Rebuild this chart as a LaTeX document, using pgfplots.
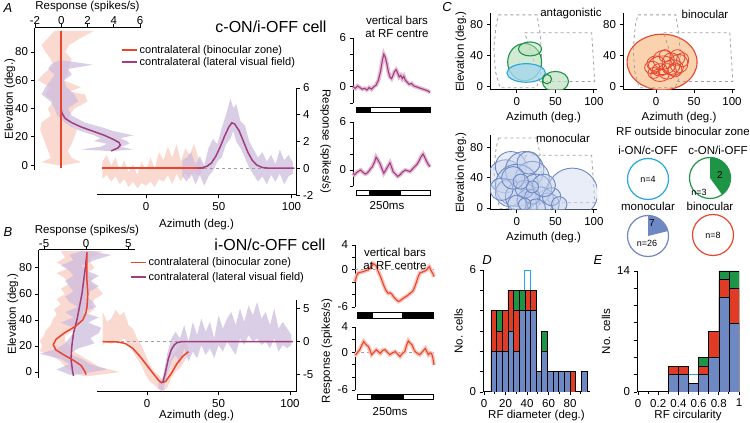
\documentclass[border=0pt]{standalone}
\usepackage{fontspec}
\setmainfont{Liberation Sans}
\usepackage{pgfplots}
\usepackage{pgfplotstable}
\pgfplotsset{compat=1.18}

\definecolor{redfit}{HTML}{E8452C}
\definecolor{purfit}{HTML}{A23D7E}
\definecolor{pinkband}{HTML}{F8CCC2}
\definecolor{purband}{HTML}{CDBCDD}
\definecolor{trpurband}{HTML}{E6BBD7}
\definecolor{trredband}{HTML}{F8C4BA}
\definecolor{greenc}{HTML}{1E9447}
\definecolor{greenfill}{HTML}{BFE0C0}
\definecolor{cyanc}{HTML}{25A6DE}
\definecolor{cyanfill}{HTML}{A6D7EE}
\definecolor{monob}{HTML}{6E88C4}
\definecolor{monofill}{HTML}{C5D2EC}
\definecolor{orangefill}{HTML}{FAD2AE}
\definecolor{histred}{HTML}{E03B24}
\definecolor{dashgray}{HTML}{A0A0A0}

\newcommand{\fs}{\fontsize{11.5}{13}\selectfont}

\pgfplotstableread{
t y
0 0.0
3 -0.2
6 0.1
9 -0.1
12 -0.3
15 -0.2
18 -0.4
21 -0.1
24 -0.3
27 0.0
30 0.2
33 0.8
36 2.0
38 3.2
40 4.0
42 3.6
44 2.8
46 1.8
48 1.2
50 1.0
52 1.4
54 1.9
56 2.1
58 1.7
60 1.2
62 1.4
64 1.0
66 1.3
68 0.8
70 0.6
73 0.3
76 0.4
79 0.1
82 0.0
85 -0.1
88 -0.2
91 -0.3
94 -0.4
97 -0.5
100 -0.7
}\trAtop

\pgfplotstableread{
t y
0 -0.4
2 -0.6
5 -0.3
8 -0.1
10 0.0
13 -0.3
16 -0.5
18 -0.4
21 -0.1
23 0.2
25 0.4
28 1.0
30 1.6
32 1.3
35 0.8
37 0.3
40 -0.4
42 -0.1
45 0.4
48 0.9
50 0.4
52 -0.2
55 -0.5
58 -0.8
60 -0.7
62 -0.5
65 -0.2
68 0.0
71 -0.1
74 -0.2
77 0.1
80 0.4
83 0.7
85 1.0
88 1.6
91 2.0
94 1.4
97 0.8
100 0.4
}\trAbot

\pgfplotstableread{
t y
0 -1.9
2 -1.0
4 -0.5
7 -0.4
10.5 -0.3
14 -0.1
17 0.0
19 0.3
21 0.5
23 1.0
25 0.8
26.6 0.7
28 0.2
29.5 -0.3
32 -1.0
33.8 -1.6
36 -2.4
38 -3.0
40 -3.5
42 -3.8
44 -3.7
46.4 -3.9
48.5 -4.3
50.6 -4.6
53 -4.9
54.9 -5.1
57 -5.0
59 -4.8
61 -4.6
63.3 -4.4
66 -4.2
69.6 -3.8
72 -3.6
73.8 -3.3
76 -2.6
78 -1.9
80 -1.1
82.3 -0.5
84.5 -0.4
86.5 -0.3
88.5 -0.2
90.7 0.0
92.5 0.3
94 0.5
95.5 0.1
97 -0.3
98.5 -0.6
100 -1.1
}\trBtop

\pgfplotstableread{
t y
0 -0.3
1 -0.4
3.5 0.0
6 0.4
8.5 1.1
11 1.7
14 1.2
17 0.9
19 0.3
21 -0.4
24 0.0
27 0.4
29.5 0.1
32 -0.2
35 0.3
38 0.4
41 0.0
44 -0.4
47.5 -0.1
51 0.1
54 -0.3
57 -0.7
60 -0.2
63 0.1
65 1.0
67.5 1.8
70 1.4
72 1.2
74 0.6
76 0.1
79 -0.2
82 -0.4
85.5 0.1
89 0.6
91 0.1
93 -0.4
95 -0.1
97 -0.2
98.5 -0.9
100 -2.0
}\trBbot

\pgfplotsset{
  base/.style={scale only axis, anchor=south west,
    /pgf/number format/assume math mode=true,
    tick label style={font=\fs},
    label style={font=\fs},
    tick align=outside,
    axis line style={line width=1pt},
    major tick length=3.5pt, minor tick length=2pt,
    every tick/.append style={black, line width=0.9pt},
  },
  trace/.style={base, axis x line=none, axis y line*=left, xmin=0, xmax=100, clip=false,
    xtick=\empty},
  hbar/.style={ybar, bar shift=0pt, draw=black, line width=0.6pt},
  leg/.style={legend cell align=left,
    legend image code/.code={\draw[##1, line width=1.6pt] (0pt,0pt) -- (15pt,0pt);}},
}

\begin{document}
\begin{tikzpicture}[x=1pt,y=1pt]
\useasboundingbox (0pt,0pt) rectangle (750pt,423pt);

% ---------------- Panel A: elevation profile ----------------
\begin{axis}[base, at={(35pt,253pt)}, width=105pt, height=142pt,
  xmin=-2, xmax=6, ymin=-3.5, ymax=97,
  axis x line*=top, axis y line*=left,
  xtick={-2,0,2,4,6}, ytick={0,20,40,60,80},
  xlabel={Response (spikes/s)}, ylabel={Elevation (deg.)},
  xlabel style={yshift=-2pt}, xticklabel style={yshift=-4pt}, ylabel shift=-7pt]
\addplot[fill=pinkband, draw=none, fill opacity=0.75] coordinates {
(2.5,95) (1.5,90) (0.6,85) (0.3,80) (0.8,75) (0.6,70) (0.5,65) (0.2,60) (1.5,55) (0.6,52) (1.8,50) (2.0,45) (1.0,40) (0.6,35) (0.5,30) (1.2,25) (1.0,20) (0.8,15) (0.5,10) (0.8,5) (1.5,2) (0.3,0)
(-0.3,0) (-1.5,2) (-0.8,5) (-1.0,10) (-1.2,15) (-1.4,20) (-1.6,25) (-1.5,30) (-0.8,35) (-1.0,40) (-0.6,45) (-1.2,50) (-0.8,55) (-1.8,60) (-1.3,65) (-0.6,70) (-0.8,75) (-1.2,80) (-1.5,85) (-1.0,90) (-0.5,95)} -- cycle;
\addplot[fill=purband, draw=none, fill opacity=0.75] coordinates {
(0.2,74) (2.4,71) (0.5,68) (0.8,64) (0.2,60) (0.4,55) (1.0,50) (1.3,45) (0.5,40) (0.8,35) (1.8,30) (3.0,27) (4.0,24) (5.5,21) (4.5,19) (5.0,17) (5.2,15) (4.5,13) (5.5,11) (4.0,10)
(3.5,10) (1.5,11) (3.0,13) (3.5,15) (2.5,17) (3.0,19) (2.5,21) (1.5,24) (0.8,27) (0.3,30) (-0.3,35) (-0.5,40) (-0.8,45) (-1.5,50) (-1.2,55) (-0.8,60) (-0.5,64) (-1.0,68) (-0.8,71) (-0.2,74)} -- cycle;
\addplot[purfit, line width=1.5pt] coordinates {(0,95) (0,40) (0.02,38) (0.1,36) (0.3,33) (0.8,30) (1.5,27) (2.4,24) (3.3,21) (4.0,18) (4.4,16) (4.5,14) (4.3,12) (3.8,10)};
\addplot[redfit, line width=1.5pt] coordinates {(0,-2) (0,95)};
\end{axis}

% ---------------- Panel A: azimuth profile ----------------
\begin{axis}[base, leg, at={(97pt,228pt)}, width=199pt, height=107pt,
  xmin=-33.7, xmax=103.1, ymin=-2, ymax=6,
  axis x line*=bottom, axis y line*=right,
  xtick={0,50,100}, ytick={-2,0,2,4,6},
  xlabel={Azimuth (deg.)}, ylabel={Response (spikes/s)},
  xlabel style={yshift=-2pt},
  ylabel style={rotate=180},
  legend style={at={(0.12,1.42)}, anchor=north west, draw=none, fill=none,
    font=\fontsize{11}{12}\selectfont, inner sep=0pt, row sep=-1.5pt}]
\addplot[fill=pinkband, draw=none, fill opacity=0.75, forget plot] coordinates {
(-30,0.5) (-27,1.0) (-24,0.2) (-21,0.8) (-18,-0.2) (-15,0.6) (-12,-0.3) (-9,0.3) (-6,-0.5) (-3,0.5) (0,-0.2) (3,0.8) (6,0.0) (9,1.2) (12,0.6) (15,1.6) (18,0.8) (21,1.8) (24,0.5) (27,1.5) (30,1.0) (33,1.8) (36,0.8) (38,0.3)
(38,-0.3) (36,-0.6) (33,-0.2) (30,-0.8) (27,-0.3) (24,-1.0) (21,-0.4) (18,-1.2) (15,-0.5) (12,-1.0) (9,-0.8) (6,-1.4) (3,-1.0) (0,-1.3) (-3,-1.1) (-6,-1.5) (-9,-1.0) (-12,-1.4) (-15,-0.8) (-18,-1.2) (-21,-0.6) (-24,-1.0) (-27,-0.5) (-30,-0.8)} -- cycle;
\addplot[fill=purband, draw=none, fill opacity=0.75, forget plot] coordinates {
(25,0.6) (28,0.8) (31,1.2) (34,0.3) (37,0.9) (40,0.2) (43,1.5) (46,2.2) (49,1.8) (52,3.0) (55,4.0) (58,5.2) (60,4.5) (62,4.8) (65,3.5) (68,3.2) (71,2.0) (74,1.4) (77,0.8) (80,1.2) (83,0.5) (86,1.0) (89,0.3) (92,1.4) (95,0.6) (98,1.0) (101,0.4)
(101,-0.4) (98,-0.6) (95,-1.2) (92,-0.4) (89,-1.0) (86,-0.5) (83,-1.2) (80,-0.6) (77,-1.0) (74,-0.5) (71,0.0) (68,0.8) (65,1.5) (62,2.0) (60,2.8) (58,2.2) (55,1.8) (52,0.8) (49,0.5) (46,-0.2) (43,-0.6) (40,-1.3) (37,-0.5) (34,-1.2) (31,-0.4) (28,-1.0) (25,-0.6)} -- cycle;
\addplot[dashgray, dashed, line width=0.8pt, forget plot] coordinates {(-30,0) (102,0)};
\addplot[redfit, line width=1.5pt] coordinates {(-30,0) (40,0)};
\addlegendentry{contralateral (binocular zone)}
\addplot[purfit, line width=1.5pt] coordinates {(35,0) (38,0.02) (42,0.15) (45,0.4) (48,0.9) (51,1.6) (54,2.4) (57,3.1) (59,3.4) (61,3.3) (64,2.8) (67,2.0) (70,1.2) (73,0.6) (76,0.25) (80,0.05) (85,0) (102,0)};
\addlegendentry{contralateral (lateral visual field)}
\end{axis}

% ---------------- Panel B: elevation profile ----------------
\begin{axis}[base, at={(39pt,45pt)}, width=96pt, height=128pt,
  xmin=-5.6, xmax=5.8, ymin=-4.6, ymax=93.8,
  axis x line*=top, axis y line*=left,
  xtick={-5,0,5}, ytick={0,20,40,60,80},
  xlabel={Response (spikes/s)}, ylabel={Elevation (deg.)},
  xlabel style={yshift=-3pt}, xticklabel style={yshift=-5pt}, ylabel shift=-6pt]
\addplot[fill=pinkband, draw=none, fill opacity=0.75] coordinates {
(2.0,93) (0.5,88) (0.5,84) (1.0,80) (0.0,76) (0.8,72) (0.5,68) (1.5,64) (2.0,60) (1.0,56) (0.5,52) (1.0,48) (0.0,44) (-0.5,40) (-1.0,36) (-1.5,32) (-2.5,28) (-2.5,24) (-2.0,20) (-1.5,16) (-0.5,12) (0.5,8) (1.5,4) (4.0,0) (0.5,-3)
(-0.5,-3) (-1.5,0) (-2.5,4) (-3.0,8) (-4.0,12) (-5.5,16) (-5.2,20) (-5.5,24) (-5.0,28) (-4.8,32) (-4.2,36) (-4.0,40) (-3.5,44) (-3.8,48) (-3.0,52) (-3.5,56) (-2.5,60) (-3.0,64) (-2.0,68) (-2.5,72) (-3.5,76) (-2.0,80) (-3.5,84) (-2.5,88) (-3.0,93)} -- cycle;
\addplot[fill=purband, draw=none, fill opacity=0.75] coordinates {
(0.5,93) (3.0,90) (1.0,86) (-0.5,82) (0.0,78) (1.5,74) (0.5,70) (1.5,66) (0.5,62) (0.0,58) (0.8,54) (1.2,50) (-0.5,46) (1.5,42) (0.2,38) (1.8,34) (1.5,30) (0.5,26) (1.0,22) (-1.0,18) (-2.0,14) (-0.5,10) (0.5,6) (2.5,2) (-1.0,-2)
(-2.0,-2) (-3.5,2) (-2.0,6) (-3.0,10) (-5.5,14) (-3.5,18) (-2.5,22) (-2.0,26) (-1.5,30) (-1.5,34) (-3.0,38) (-1.5,42) (-2.5,46) (-1.0,50) (-2.0,54) (-2.5,58) (-1.5,62) (-2.0,66) (-2.5,70) (-1.5,74) (-2.0,78) (-3.0,82) (-1.5,86) (-2.0,90) (-0.5,93)} -- cycle;
\addplot[purfit, line width=1.5pt] coordinates {(0.1,92) (-0.1,80) (-0.3,70) (-0.5,60) (-0.8,50) (-1.1,40) (-1.5,30) (-1.7,20) (-1.8,10) (-1.6,0) (-1.5,-3)};
\addplot[redfit, line width=1.5pt] coordinates {(0.1,92) (0.1,70) (0.2,60) (0.1,50) (-0.05,45) (-0.4,40) (-1.3,35) (-2.6,30) (-3.6,25) (-3.9,21) (-3.6,17) (-2.6,13) (-1.5,9) (-0.6,5) (-0.2,1) (0,-2)};
\end{axis}

% ---------------- Panel B: azimuth profile ----------------
\begin{axis}[base, leg, at={(97pt,31pt)}, width=199pt, height=92pt,
  xmin=-35, xmax=104.2, ymin=-7.6, ymax=6.3,
  axis x line*=bottom, axis y line*=right,
  xtick={0,50,100}, ytick={-5,0,5},
  xlabel={Azimuth (deg.)}, xlabel style={yshift=4pt},
  legend style={at={(0.165,1.485)}, anchor=north west, draw=none, fill=none,
    font=\fontsize{11}{12}\selectfont, inner sep=0pt, row sep=1.5pt}]
\addplot[fill=pinkband, draw=none, fill opacity=0.75, forget plot] coordinates {
(-31,4.5) (-28,3.0) (-25,3.5) (-22,4.8) (-19,4.0) (-16,4.5) (-13,2.5) (-10,2.0) (-7,0.5) (-4,-0.5) (-1,-2.0) (2,-3.5) (5,-4.5) (8,-5.0) (11,-5.8) (14,-4.5) (17,-2.5) (20,-1.5) (23,-0.5) (26,0.0) (29,-0.8)
(29,-2.0) (26,-3.0) (23,-4.0) (20,-4.5) (17,-5.5) (14,-7.0) (11,-7.5) (8,-7.2) (5,-6.5) (2,-6.0) (-1,-5.0) (-4,-3.5) (-7,-2.5) (-10,-1.5) (-13,-0.5) (-16,0.5) (-19,0.0) (-22,0.2) (-25,-0.3) (-28,0.0) (-31,-0.5)} -- cycle;
\addplot[fill=purband, draw=none, fill opacity=0.75, forget plot] coordinates {
(8,-6.0) (11,-5.5) (14,-2.0) (17,0.5) (20,1.5) (23,0.5) (26,2.5) (29,0.0) (32,3.0) (35,1.0) (38,3.5) (41,1.5) (44,3.0) (47,0.5) (50,4.0) (53,2.0) (56,3.5) (59,4.5) (62,2.5) (65,5.0) (68,3.0) (71,5.5) (74,4.0) (77,6.0) (80,3.5) (83,4.5) (86,2.5) (89,5.0) (92,2.0) (95,3.0) (98,2.0) (101,1.0)
(101,-0.5) (98,-1.0) (95,-0.5) (92,-1.5) (89,0.5) (86,-1.0) (83,0.0) (80,-0.5) (77,0.5) (74,0.0) (71,1.0) (68,-0.5) (65,0.5) (62,-2.0) (59,-1.0) (56,0.0) (53,-1.5) (50,-0.5) (47,-2.5) (44,-1.0) (41,-2.0) (38,-0.5) (35,-2.5) (32,-1.5) (29,-3.0) (26,-1.0) (23,-3.5) (20,-2.0) (17,-3.0) (14,-5.0) (11,-7.5) (8,-7.0)} -- cycle;
\addplot[dashgray, dashed, line width=0.8pt, forget plot] coordinates {(-31,0) (103,0)};
\addplot[redfit, line width=1.5pt] coordinates {(-31,0) (-20,-0.05) (-15,-0.3) (-10,-1.0) (-5,-2.2) (0,-3.6) (5,-5.0) (8,-5.8) (10,-6.2) (13,-6.0) (17,-4.8) (21,-3.3) (25,-2.2) (29,-1.5)};
\addlegendentry{contralateral (binocular zone)}
\addplot[purfit, line width=1.5pt] coordinates {(11,-6.2) (13,-4.5) (15,-2.5) (17,-1.2) (19,-0.5) (21,-0.15) (24,0) (102,0)};
\addlegendentry{contralateral (lateral visual field)}
\end{axis}

% ---------------- Panel A/B: traces ----------------
\begin{axis}[trace, at={(353pt,320pt)}, width=77pt, height=65pt, ymin=-2, ymax=6,
  ytick={-2,0,2,4,6}, yticklabels={,0,,,6}]
\addplot[trpurband, line width=4pt] table[x=t,y=y] {\trAtop};
\addplot[purfit, line width=1.1pt] table[x=t,y=y] {\trAtop};
\draw[line width=0.6pt, fill=black] (axis cs:4,-3.11) rectangle (axis cs:22,-2.49);
\draw[line width=0.6pt, fill=white] (axis cs:22,-3.11) rectangle (axis cs:61,-2.49);
\draw[line width=0.6pt, fill=black] (axis cs:61,-3.11) rectangle (axis cs:101,-2.49);
\end{axis}

\begin{axis}[trace, at={(353pt,237pt)}, width=77pt, height=64pt, ymin=-2, ymax=6,
  ytick={-2,0,2,4,6}, yticklabels={,0,,,6}]
\addplot[trpurband, line width=4pt] table[x=t,y=y] {\trAbot};
\addplot[purfit, line width=1.1pt] table[x=t,y=y] {\trAbot};
\draw[line width=0.6pt, fill=white] (axis cs:4,-3.125) rectangle (axis cs:21,-2.5);
\draw[line width=0.6pt, fill=black] (axis cs:21,-3.125) rectangle (axis cs:62,-2.5);
\draw[line width=0.6pt, fill=white] (axis cs:62,-3.125) rectangle (axis cs:101,-2.5);
\end{axis}

\begin{axis}[trace, at={(355pt,116pt)}, width=79pt, height=62pt, ymin=-6, ymax=4,
  ytick={-6,-4,-2,0,2,4}, yticklabels={-6,,,0,,4}]
\addplot[dashgray, dashed, line width=0.7pt] coordinates {(0,0) (100,0)};
\addplot[trredband, line width=4pt] table[x=t,y=y] {\trBtop};
\addplot[redfit, line width=1.1pt] table[x=t,y=y] {\trBtop};
\draw[line width=0.6pt, fill=black] (axis cs:2.5,-7.77) rectangle (axis cs:21.5,-6.81);
\draw[line width=0.6pt, fill=white] (axis cs:21.5,-7.77) rectangle (axis cs:59.5,-6.81);
\draw[line width=0.6pt, fill=black] (axis cs:59.5,-7.77) rectangle (axis cs:98.7,-6.81);
\end{axis}

\begin{axis}[trace, at={(355pt,33pt)}, width=79pt, height=63pt, ymin=-6, ymax=4,
  ytick={-6,-4,-2,0,2,4}, yticklabels={-6,,,0,,4}]
\addplot[dashgray, dashed, line width=0.7pt] coordinates {(0,0) (100,0)};
\addplot[trredband, line width=4pt] table[x=t,y=y] {\trBbot};
\addplot[redfit, line width=1.1pt] table[x=t,y=y] {\trBbot};
\draw[line width=0.6pt, fill=white] (axis cs:2.5,-7.43) rectangle (axis cs:20.3,-6.63);
\draw[line width=0.6pt, fill=black] (axis cs:20.3,-7.43) rectangle (axis cs:60.8,-6.63);
\draw[line width=0.6pt, fill=white] (axis cs:60.8,-7.43) rectangle (axis cs:98.7,-6.63);
\end{axis}

% ---------------- Panel C: antagonistic ----------------
\begin{axis}[base, at={(490pt,333pt)}, width=107pt, height=77pt,
  xmin=-35, xmax=104, ymin=-4, ymax=95.4,
  axis x line*=bottom, axis y line*=left,
  xtick={0,50,100}, ytick={0,40,80},
  xlabel={Azimuth (deg.)}, ylabel={Elevation (deg.)}, ylabel shift=-3pt]
\addplot[dashgray, dashed, line width=0.8pt] coordinates {(-24,93) (26,93) (30,70) (32,40) (30,10) (25,-1) (-22,-1) (-28,20) (-30,50) (-27,80)} -- cycle;
\addplot[dashgray, dashed, line width=0.8pt] coordinates {(10,70) (97,70) (99,40) (101,7) (29,7) (20,40)} -- cycle;
\draw[greenc, fill=greenfill, fill opacity=0.7, line width=1.1pt] (axis cs:10,32) ellipse [x radius=22, y radius=24];
\draw[greenc, fill=greenfill, fill opacity=0.5, line width=1.1pt] (axis cs:17,49) ellipse [x radius=15, y radius=9];
\draw[cyanc, fill=cyanfill, fill opacity=0.8, line width=1.1pt] (axis cs:12,18) ellipse [x radius=25, y radius=12];
\draw[greenc, fill=greenfill, fill opacity=0.7, line width=1.1pt] (axis cs:50,7) ellipse [x radius=17, y radius=13];
\draw[greenc, line width=1.1pt] (axis cs:39,10) ellipse [x radius=6, y radius=6];
\end{axis}

% ---------------- Panel C: binocular ----------------
\begin{axis}[base, at={(623pt,333pt)}, width=112pt, height=77pt,
  xmin=-43.4, xmax=103.9, ymin=-4, ymax=95.4,
  axis x line*=bottom, axis y line*=left,
  xtick={0,50,100}, ytick={0,40,80},
  xlabel={Azimuth (deg.)}]
\draw[redfit, fill=orangefill, line width=1.1pt] (axis cs:8,32) ellipse [x radius=46, y radius=36];
\addplot[dashgray, dashed, line width=0.8pt] coordinates {(-24,93) (26,93) (30,70) (32,40) (30,10) (25,-1) (-22,-1) (-28,20) (-30,50) (-27,80)} -- cycle;
\addplot[dashgray, dashed, line width=0.8pt] coordinates {(10,70) (97,70) (99,40) (101,7) (29,7) (20,40)} -- cycle;
\foreach \a/\e/\rx/\ry in {0/30/12/10, 5/22/10/8, 10/35/14/12, 20/30/12/14, 28/38/10/10, 30/30/12/12, 15/20/12/10, -5/25/10/8, 8/28/18/12, 22/25/14/10, 12/40/8/8, -3/18/8/7, 25/22/9/9, 5/15/12/8, 35/35/8/9}{
  \edef\tmp{\noexpand\draw[redfit, line width=0.8pt] (axis cs:\a,\e) ellipse [x radius=\rx, y radius=\ry];}\tmp
}
\end{axis}

% ---------------- Panel C: monocular ----------------
\begin{axis}[base, at={(490pt,213pt)}, width=107pt, height=75pt,
  xmin=-35, xmax=104, ymin=-2.7, ymax=97,
  axis x line*=bottom, axis y line*=left,
  xtick={0,50,100}, ytick={0,40,80},
  xlabel={Azimuth (deg.)}, ylabel={Elevation (deg.)}, ylabel shift=-3pt]
\addplot[dashgray, dashed, line width=0.8pt] coordinates {(-24,93) (26,93) (30,70) (32,40) (30,10) (25,-1) (-22,-1) (-28,20) (-30,50) (-27,80)} -- cycle;
\addplot[dashgray, dashed, line width=0.8pt] coordinates {(10,70) (97,70) (99,40) (101,7) (29,7) (20,40)} -- cycle;
\foreach \a/\e/\r in {72/20/33, -15/42/22, -8/55/20, 10/50/25, 20/40/22, 0/30/28, 25/25/20, -10/20/18, 5/15/20, 15/10/15, 30/10/18, 40/5/15, 45/15/12, 10/25/12, 20/15/10, 0/5/12, -20/25/15, 35/30/15, 15/60/15, 55/5/10, 25/0/12, -5/40/15, 10/5/8, 20/28/8, 5/35/10}{
  \edef\tmp{\noexpand\draw[monob, fill=monofill, fill opacity=0.4, line width=0.9pt] (axis cs:\a,\e) circle [radius=\r];}\tmp
}
\end{axis}

% ---------------- Panel C: pies ----------------
\begin{axis}[scale only axis, anchor=south west, at={(620pt,160pt)}, width=120pt, height=110pt,
  xmin=620, xmax=740, ymin=160, ymax=270, hide axis, clip=false]
\draw[cyanc, line width=1.2pt] (axis cs:648,244) circle [radius=20.5];
\fill[greenc] (axis cs:710,245) -- (axis cs:710,265.5) arc[start angle=90, end angle=-54, radius=20.5] -- cycle;
\draw[greenc, line width=1.2pt] (axis cs:710,245) circle [radius=20.5];
\fill[monob] (axis cs:648,187) -- (axis cs:648,207.5) arc[start angle=90, end angle=14, radius=20.5] -- cycle;
\draw[monob, line width=1.2pt] (axis cs:648,187) circle [radius=20.5];
\draw[redfit, line width=1.2pt] (axis cs:713,188) circle [radius=20.5];
\node[font=\fontsize{9}{10}\selectfont] at (axis cs:648,244) {n=4};
\node[font=\fontsize{10}{11}\selectfont] at (axis cs:720,248) {2};
\node[font=\fontsize{9}{10}\selectfont] at (axis cs:699,231) {n=3};
\node[font=\fontsize{10}{11}\selectfont] at (axis cs:652,200) {7};
\node[font=\fontsize{9}{10}\selectfont] at (axis cs:647,180) {n=26};
\node[font=\fontsize{9}{10}\selectfont] at (axis cs:713,188) {n=8};
\end{axis}

% ---------------- Panel D ----------------
\begin{axis}[base, at={(483pt,31pt)}, width=107pt, height=122pt,
  xmin=-0.93, xmax=98.6, ymin=0, ymax=6,
  axis x line*=bottom, axis y line*=left,
  xtick={0,20,40,60,80}, minor xtick={10,30,50,70,90},
  ytick={0,1,2,3,4,5,6}, yticklabels={0,,,,,,6},
  xlabel={RF diameter (deg.)}, xlabel style={yshift=4pt}, ylabel={No. cells}]
\addplot[hbar, bar width=5.25, draw=cyanc, fill=white, line width=1.1pt] coordinates {(40.6,6)};
\addplot[hbar, bar width=5.25, fill=greenc] coordinates {(14.35,4) (30.1,5) (35.35,5) (56.35,3)};
\addplot[hbar, bar width=5.25, fill=histred] coordinates {(9.1,4) (14.35,3) (19.6,4) (24.85,5) (30.1,4) (40.6,5) (45.85,5) (82.6,1)};
\addplot[hbar, bar width=5.25, fill=monob] coordinates {(9.1,2) (14.35,2) (19.6,2) (24.85,3) (30.1,2) (35.35,4) (40.6,4) (45.85,4) (51.1,1) (56.35,2) (61.6,1) (66.85,1) (72.1,1) (77.35,1) (93.1,1)};
\end{axis}

% ---------------- Panel E ----------------
\begin{axis}[base, at={(637pt,31pt)}, width=102pt, height=121pt,
  xmin=-0.01, xmax=1.0, ymin=0, ymax=14,
  axis x line*=bottom, axis y line*=left,
  xtick={0,0.2,0.4,0.6,0.8,1}, xticklabels={0,0.2,0.4,0.6,0.8,1},
  minor xtick={0.1,0.3,0.5,0.7,0.9},
  ytick={0,2,4,6,8,10,12,14}, yticklabels={0,,,,,,,14},
  xlabel={RF circularity}, xlabel style={yshift=4pt}, ylabel={No. cells}]
\addplot[hbar, bar width=0.1, draw=cyanc, fill=white, line width=1.1pt] coordinates {(0.55,2)};
\addplot[hbar, bar width=0.1, fill=greenc] coordinates {(0.65,4) (0.85,14) (0.95,14)};
\addplot[hbar, bar width=0.1, fill=histred] coordinates {(0.35,3) (0.45,3) (0.65,3) (0.75,7) (0.85,13) (0.95,12)};
\addplot[hbar, bar width=0.1, fill=monob] coordinates {(0.35,2) (0.45,2) (0.55,1) (0.65,2) (0.75,4) (0.85,11) (0.95,8)};
\end{axis}

% ---------------- Texts ----------------
\node[font=\fontsize{16}{18}\selectfont] at (271pt,396pt) {c-ON/i-OFF cell};
\node[font=\fontsize{16}{18}\selectfont] at (270pt,178pt) {i-ON/c-OFF cell};
\node[font=\fs, align=center] at (397pt,396.5pt) {vertical bars\\at RF centre};
\node[font=\fs, align=center] at (395pt,164.5pt) {vertical bars\\at RF centre};
\node[font=\fs] at (387pt,217pt) {250ms};
\node[font=\fs] at (390pt,11pt) {250ms};
\node[font=\fs, rotate=90] at (327pt,72pt) {Response (spikes/s)};
\node[font=\fs] at (571pt,409pt) {antagonistic};
\node[font=\fs] at (705pt,409pt) {binocular};
\node[font=\fs] at (563pt,285pt) {monocular};
\node[font=\fs] at (683pt,292pt) {RF outside binocular zone};
\node[font=\fs] at (648pt,273pt) {i-ON/c-OFF};
\node[font=\fs] at (718pt,273pt) {c-ON/i-OFF};
\node[font=\fs] at (648pt,217pt) {monocular};
\node[font=\fs] at (710pt,217pt) {binocular};
\node[font=\fontsize{13}{14}\selectfont\itshape] at (8pt,415pt) {A};
\node[font=\fontsize{13}{14}\selectfont\itshape] at (8pt,191pt) {B};
\node[font=\fontsize{13}{14}\selectfont\itshape] at (447pt,416pt) {C};
\node[font=\fontsize{13}{14}\selectfont\itshape] at (487pt,163pt) {D};
\node[font=\fontsize{13}{14}\selectfont\itshape] at (598pt,163pt) {E};
\end{tikzpicture}
\end{document}
